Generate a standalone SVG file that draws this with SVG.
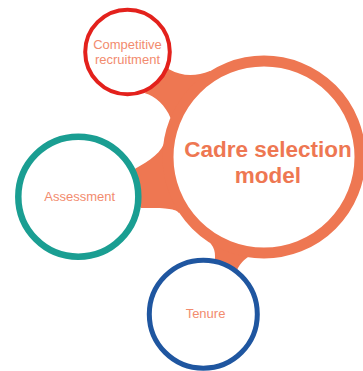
<svg xmlns="http://www.w3.org/2000/svg" width="363" height="371" viewBox="0 0 363 371">
<style>
.conn{fill:#ee7752;stroke:none}
.node{fill:#ffffff}
.lbl{font-family:"Liberation Sans",Arial,sans-serif;font-size:13px;fill:#f28b6e;text-anchor:middle}
.main{font-family:"Liberation Sans",Arial,sans-serif;font-size:22.5px;font-weight:bold;fill:#ee7752;text-anchor:middle}
</style>
<rect width="363" height="371" fill="#ffffff"/>
<g id="connectors">
<path class="conn" d="M160,60 L169,69.3 Q188,80 210,71 L230,100 L170.5,118 C166,106 155,96 145,93.3 Z"/>
<path class="conn" d="M120,180 L135.5,168.5 C149.5,160.8 163,151.8 165,140 L200,150 L179,213 C176,209 168,207.5 141,208 Z"/>
<path class="conn" d="M206,236 L211,244 Q215,249 215,256 L215,262 L236,272 L238,268 Q241,262 248,257 L250,250 Z"/>
</g>
<g id="node-main">
<circle class="node" cx="264" cy="157" r="96" stroke="#ee7752" stroke-width="11"/>
<text class="main" x="268" y="157.3">Cadre selection</text>
<text class="main" x="268" y="183.3">model</text>
</g>
<g id="node-recruitment">
<circle class="node" cx="127.5" cy="52" r="42.3" stroke="#e3211c" stroke-width="4"/>
<text class="lbl" x="127.5" y="49.3">Competitive</text>
<text class="lbl" x="127.5" y="64">recruitment</text>
</g>
<g id="node-assessment">
<circle class="node" cx="78.3" cy="196.7" r="60" stroke="#1a9e92" stroke-width="6.5"/>
<text class="lbl" x="79.7" y="201">Assessment</text>
</g>
<g id="node-tenure">
<circle class="node" cx="203.3" cy="314.2" r="54" stroke="#1f56a0" stroke-width="5"/>
<text class="lbl" x="205.5" y="317.7">Tenure</text>
</g>
</svg>
